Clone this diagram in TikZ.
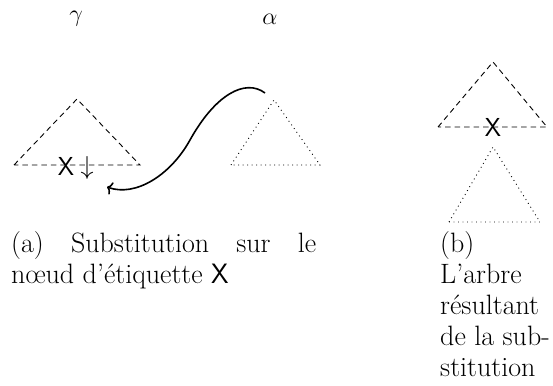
\RequirePackage{fix-cm}
\documentclass[tikz,border=0pt]{standalone}
\usepackage{fontspec}
\usetikzlibrary{arrows.meta}
\tikzset{
  treedash/.style={dash pattern=on 5.5pt off 4pt, line width=0.9pt},
  treedot/.style={dash pattern=on 0.9pt off 3.6pt, line width=0.9pt},
  lbl/.style={inner sep=0pt, font=\fontsize{26}{26}\selectfont},
  greek/.style={inner sep=0pt, font=\fontsize{24}{24}\selectfont},
  txt/.style={inner sep=0pt, anchor=base west, font=\fontsize{28}{28}\selectfont},
  subst/.style={line width=1.6pt, -{Computer Modern Rightarrow[length=5pt,width=13pt]}}
}
\begin{document}
\begin{tikzpicture}[x=1pt,y=-1pt]
\useasboundingbox (0,0) rectangle (553,385);
% labels
\node[greek] (g) at (76,19) {$\gamma$};
\node[greek] (al) at (270,19) {$\alpha$};
% left tree gamma
\draw[treedash] (14,165) -- (77,99) -- (140,165) -- cycle;
\node[lbl] (X1) at (66,166) {\textsf{X}};
\node[lbl] (d1) at (87,168) {$\downarrow$};
% tree alpha
\draw[treedot] (231,165) -- (274,100) -- (320,165) -- cycle;
% substitution arrow
\coordinate (cs) at (265,93);
\coordinate (ce) at (107,187);
\draw[subst] (cs) .. controls (245,78) and (215,95) .. (190,140)
                  .. controls (170,176) and (135,197) .. (ce);
% result tree
\draw[treedash] (438,127) -- (493,62) -- (547,127) -- cycle;
\node[lbl] (X2) at (493,127.5) {\textsf{X}};
\draw[treedot] (449,222) -- (493,147) -- (540,222) -- cycle;
% captions
\node[txt] (a1) at (11,252) {\makebox[305pt][s]{(a) Substitution sur le}};
\node[txt] (a2) at (11,283) {nœud d'étiquette \textsf{X}};
\node[txt] (b1) at (440,252) {(b)};
\node[txt] (b2) at (440,283) {L'arbre};
\node[txt] (b3) at (440,314) {résultant};
\node[txt] (b4) at (440,345) {de la sub-};
\node[txt] (b5) at (440,376) {stitution};
\end{tikzpicture}
\end{document}
